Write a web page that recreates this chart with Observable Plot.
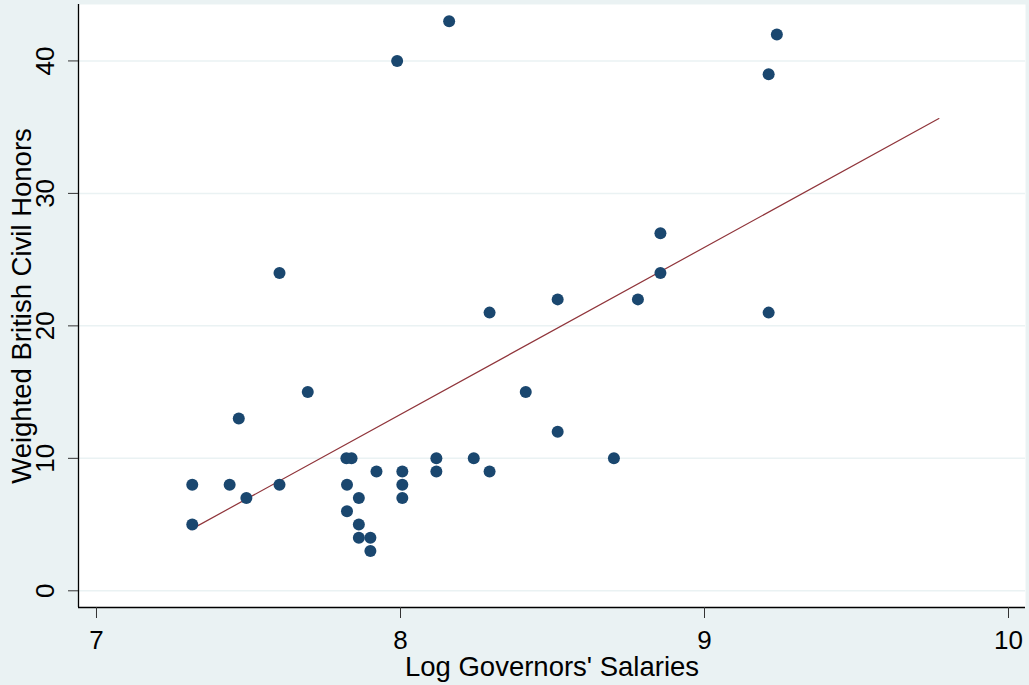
<!DOCTYPE html>
<html>
<head>
<meta charset="utf-8">
<script src="https://cdn.jsdelivr.net/npm/d3@7"></script>
<script src="https://cdn.jsdelivr.net/npm/@observablehq/plot@0.6"></script>
<style>
  html, body { margin: 0; padding: 0; background: #EAF2F3; }
  #chart svg { display: block; }
</style>
</head>
<body>
<div id="chart"></div>
<script>
// Data
const logSalary = [7.315, 7.315, 7.438, 7.468, 7.493, 7.602, 7.602, 7.695, 7.822, 7.839,
  7.824, 7.824, 7.863, 7.863, 7.863, 7.901, 7.901, 7.921, 8.006, 8.006,
  8.006, 7.989, 8.160, 8.118, 8.118, 8.241, 8.293, 8.293, 8.412, 8.517,
  8.517, 8.702, 8.781, 8.855, 8.855, 9.211, 9.238, 9.211];
const honors = [8, 5, 8, 13, 7, 24, 8, 15, 10, 10,
  8, 6, 7, 5, 4, 4, 3, 9, 9, 8,
  7, 40, 43, 10, 9, 10, 21, 9, 15, 22,
  12, 10, 22, 27, 24, 39, 42, 21];
const fitX = [7.31, 9.771];
const fitY = [4.62, 35.65];
const xTicks = [7, 8, 9, 10];
const yTicks = [0, 10, 20, 30, 40];
const xLabel = "Log Governors' Salaries";
const yLabel = "Weighted British Civil Honors";

const points = logSalary.map((x, i) => ({x, y: honors[i]}));
const fit = fitX.map((x, i) => ({x, y: fitY[i]}));
const xDomain = [6.9408, 10.0559];
const yDomain = [-1.26, 44.26];

const chart = Plot.plot({
  width: 1029,
  height: 685,
  marginLeft: 78,
  marginRight: 4,
  marginTop: 4,
  marginBottom: 78,
  style: {background: "#EAF2F3", fontFamily: "'Liberation Sans', Arial, sans-serif", color: "black"},
  x: {domain: xDomain},
  y: {domain: yDomain},
  marks: [
    Plot.frame({fill: "white"}),
    Plot.gridY(yTicks, {stroke: "#EAF2F3", strokeOpacity: 1, strokeWidth: 1.5}),
    Plot.line(fit, {x: "x", y: "y", stroke: "#90353B", strokeWidth: 1.2}),
    Plot.dot(points, {x: "x", y: "y", r: 6, fill: "#1A476F", stroke: "none"}),
    Plot.ruleX([xDomain[0]], {stroke: "black", strokeWidth: 1.3}),
    Plot.ruleY([yDomain[0]], {stroke: "black", strokeWidth: 1.3}),
    Plot.axisX({ticks: xTicks, tickFormat: d => String(d), tickSize: 11, tickPadding: 12, fontSize: 26, label: null, stroke: "#333"}),
    Plot.axisY({ticks: yTicks, tickSize: 10, text: null, label: null, stroke: "#333"}),
    Plot.text(yTicks, {x: xDomain[0], y: d => d, text: d => String(d), rotate: -90, dx: -33, textAnchor: "middle", lineAnchor: "middle", fontSize: 26, fill: "black"}),
    Plot.text([xLabel], {frameAnchor: "bottom", dy: 60, textAnchor: "middle", lineAnchor: "middle", fontSize: 27.5, fill: "black"}),
    Plot.text([yLabel], {frameAnchor: "left", dx: -56, rotate: -90, textAnchor: "middle", lineAnchor: "middle", fontSize: 27.5, fill: "black"})
  ]
});
document.getElementById("chart").appendChild(chart);
</script>
</body>
</html>
